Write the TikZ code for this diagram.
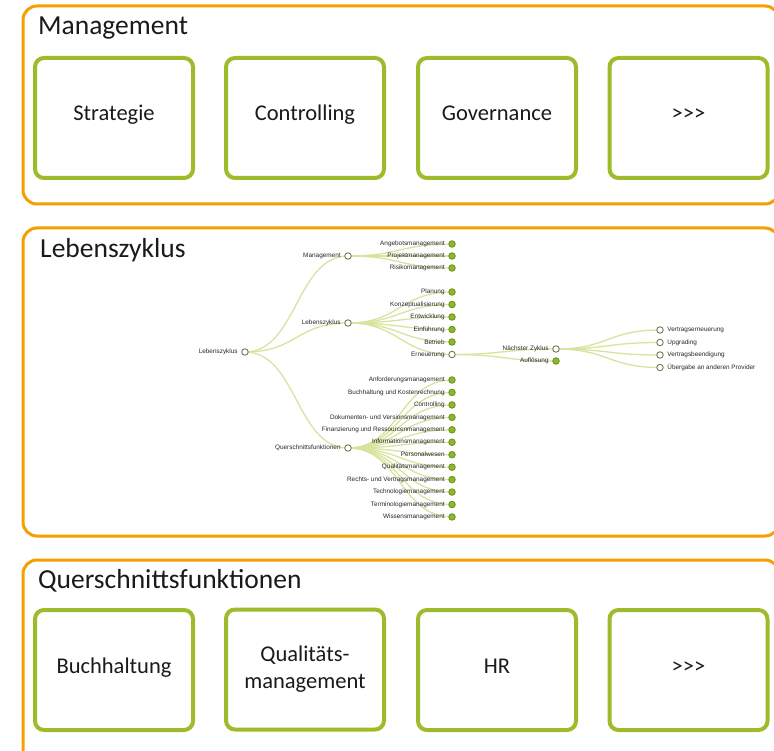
\documentclass[tikz,border=0pt]{standalone}
\usepackage{fontspec}
\setmainfont{Carlito}
\newfontfamily\treefont{Liberation Sans}
\usetikzlibrary{backgrounds}
\definecolor{orng}{HTML}{F5A000}
\definecolor{grn}{HTML}{9DBB2B}
\definecolor{lnk}{HTML}{D6E49E}
\definecolor{leaf}{HTML}{8DB82B}
\definecolor{leafb}{HTML}{6F9420}
\definecolor{openb}{HTML}{6E7E55}
\definecolor{ink}{HTML}{1A1A1A}
\begin{document}
\begin{tikzpicture}[x=1pt,y=-1pt,
 group/.style={draw=orng,line width=3pt,rounded corners=14pt},
 card/.style={draw=grn,line width=4pt,rounded corners=9pt,minimum width=158pt,minimum height=120pt,
   font=\fontsize{22.5}{27}\selectfont,text=ink,align=center,inner sep=0pt},
 onecard/.style={card,text height=13pt,text depth=7pt},
 title/.style={anchor=base west,font=\fontsize{27.5}{32}\selectfont,text=ink,inner sep=0pt},
 tn/.style={circle,inner sep=0pt,minimum size=6.5pt,line width=0.9pt},
 opn/.style={tn,draw=openb,fill=white},
 full/.style={tn,draw=leafb,fill=leaf},
 tl/.style={font=\treefont\fontsize{6.4}{7}\selectfont,text=black!85,inner sep=0.5pt},
 lbl/.style={label={[tl,label distance=3pt]left:#1}},
 lblr/.style={label={[tl,label distance=3pt]right:#1}},
 link/.style={draw=lnk,line width=1.3pt},
]
\useasboundingbox (0,0) rectangle (774,751);

% group frames
\draw[group] (23,6) rectangle (779,204);
\draw[group] (23,228) rectangle (779,536);
\draw[group] (23,560) rectangle (779,770);

\node[title] (t1) at (38,35) {Management};
\node[title] (t2) at (40,258) {Lebenszyklus};
\node[title] (t3) at (38,588) {Querschnittsfunktionen};

% management cards
\node[onecard] (c1) at (114,118) {Strategie};
\node[onecard] (c2) at (305,118) {Controlling};
\node[onecard] (c3) at (497,118) {Governance};
\node[onecard] (c4) at (688.5,118) {>{}>{}>};

% cross-cutting cards
\node[onecard] (d1) at (114,670) {Buchhaltung};
\node[card] (d2) at (305,669.5) {Qualitäts-\\management};
\node[onecard] (d3) at (497,670) {HR};
\node[onecard] (d4) at (688.5,670) {>{}>{}>};

% tree
\node[opn,lbl=Lebenszyklus] (r) at (245,352) {};
\node[opn,lbl=Management] (m1) at (348,256) {};
\node[opn,lbl=Lebenszyklus] (m2) at (348,323) {};
\node[opn,lbl=Querschnittsfunktionen] (m3) at (348,448) {};

\node[full,lbl=Angebotsmanagement] (a1) at (452,244) {};
\node[full,lbl=Projektmanagement] (a2) at (452,256) {};
\node[full,lbl=Risikomanagement] (a3) at (452,268) {};

\node[full,lbl=Planung] (b1) at (452,292) {};
\node[full,lbl=Konzeptualisierung] (b2) at (452,304.5) {};
\node[full,lbl=Entwicklung] (b3) at (452,317) {};
\node[full,lbl=Einführung] (b4) at (452,329.5) {};
\node[full,lbl=Betrieb] (b5) at (452,342) {};
\node[opn,lbl=Erneuerung] (b6) at (452,354.5) {};

\node[opn,lbl=Nächster Zyklus] (e1) at (556,349) {};
\node[full,lbl=Auflösung] (e2) at (556,361) {};

\node[opn,lblr=Vertragserneuerung] (n1) at (660,330) {};
\node[opn,lblr=Upgrading] (n2) at (660,342.5) {};
\node[opn,lblr=Vertragsbeendigung] (n3) at (660,355) {};
\node[opn,lblr=Übergabe an anderen Provider] (n4) at (660,367.5) {};

\foreach \i/\t in {1/Anforderungsmanagement,2/Buchhaltung und Kostenrechnung,3/Controlling,
  4/Dokumenten- und Versionsmanagement,5/Finanzierung und Ressourcenmanagement,
  6/Informationsmanagement,7/Personalwesen,8/Qualitätsmanagement,
  9/Rechts- und Vertragsmanagement,10/Technologiemanagement,11/Terminologiemanagement,
  12/Wissensmanagement}
  \node[full,lbl=\t] (q\i) at (452,{380+(\i-1)*12.45}) {};

\begin{scope}[on background layer]
  \foreach \c in {m1,m2,m3}
    \path[link] (r.center) .. controls +(52,0) and +(-52,0) .. (\c.center);
  \foreach \c in {a1,a2,a3}
    \path[link] (m1.center) .. controls +(52,0) and +(-52,0) .. (\c.center);
  \foreach \c in {b1,b2,b3,b4,b5,b6}
    \path[link] (m2.center) .. controls +(52,0) and +(-52,0) .. (\c.center);
  \foreach \c in {e1,e2}
    \path[link] (b6.center) .. controls +(52,0) and +(-52,0) .. (\c.center);
  \foreach \c in {n1,n2,n3,n4}
    \path[link] (e1.center) .. controls +(52,0) and +(-52,0) .. (\c.center);
  \foreach \i in {1,...,12}
    \path[link] (m3.center) .. controls +(52,0) and +(-52,0) .. (q\i.center);
\end{scope}
\end{tikzpicture}
\end{document}
